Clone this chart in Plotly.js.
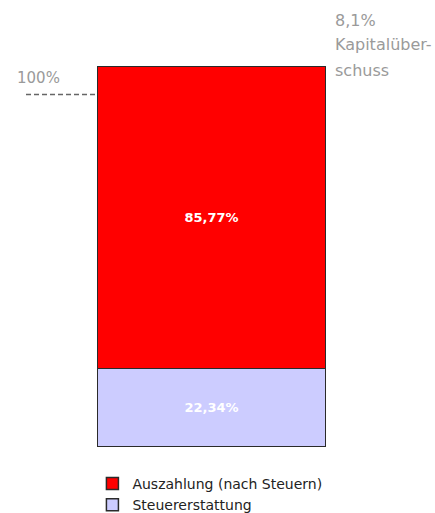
<!DOCTYPE html>
<html>
<head>
<meta charset="utf-8">
<script src="https://cdn.plot.ly/plotly-3.0.1.min.js"></script>
<style>html,body{margin:0;padding:0;background:#fff;}#chart{width:435px;height:513px;}</style>
</head>
<body>
<div id="chart"></div>
<script>
// Data
const category = ["Gesamt"];
const seriesNames = ["Steuererstattung", "Auszahlung (nach Steuern)"];
const steuererstattung = [22.34];
const auszahlung = [85.77];
const referenceLevel = 100;          // "100%" line
const kapitalueberschuss = 8.1;      // percent above 100%
const noteLines = [kapitalueberschuss.toFixed(1).replace('.', ',') + "%", "Kapitalüber-", "schuss"];

const total = steuererstattung[0] + auszahlung[0];

const barLine = {color: "#2a2a2a", width: 1.5};
const textFont = {family: "DejaVu Sans", size: 13, color: "#ffffff", weight: "bold"};

const traces = [
  {
    type: "bar", name: seriesNames[0], x: category, y: steuererstattung,
    marker: {color: "#ccccff", line: barLine},
    texttemplate: "%{y:.2f}%", textposition: "inside", insidetextanchor: "middle",
    textfont: textFont, width: 1, hoverinfo: "skip"
  },
  {
    type: "bar", name: seriesNames[1], x: category, y: auszahlung,
    marker: {color: "#ff0000", line: barLine},
    texttemplate: "%{y:.2f}%", textposition: "inside", insidetextanchor: "middle",
    textfont: textFont, width: 1, hoverinfo: "skip"
  }
];

const noteY = [1.1207, 1.0577, 0.9895];
const annotations = noteLines.map((t, i) => ({
  xref: "paper", yref: "paper", x: 1.0306, y: noteY[i],
  xanchor: "left", yanchor: "middle", text: t, showarrow: false,
  font: {family: "DejaVu Sans", size: 16, color: "#9a9a9a"}
}));
annotations.push({
  xref: "paper", yref: "y", x: -0.255, y: referenceLevel,
  xanchor: "center", yanchor: "bottom", yshift: 6,
  text: referenceLevel + "%", showarrow: false,
  font: {family: "DejaVu Sans", size: 15, color: "#9a9a9a"}
});

const layout = {
  width: 435, height: 513,
  margin: {l: 97, r: 109, t: 66, b: 66, pad: 0, autoexpand: false},
  paper_bgcolor: "#ffffff", plot_bgcolor: "#ffffff",
  separators: ",.",
  barmode: "stack",
  showlegend: true,
  legend: {
    x: -0.02, y: -0.055, xanchor: "left", yanchor: "top",
    traceorder: "reversed",
    font: {family: "DejaVu Sans", size: 14, color: "#222222"},
    bgcolor: "rgba(0,0,0,0)", itemwidth: 30, tracegroupgap: 0
  },
  xaxis: {visible: false, range: [-0.5, 0.5], fixedrange: true},
  yaxis: {visible: false, range: [0, total], fixedrange: true},
  shapes: [{
    type: "line", xref: "paper", yref: "y",
    x0: -0.31, x1: 0, y0: referenceLevel, y1: referenceLevel,
    line: {color: "#666666", width: 1.5, dash: "5px,3px"}
  }],
  annotations: annotations
};

Plotly.newPlot("chart", traces, layout, {displayModeBar: false, staticPlot: true});
</script>
</body>
</html>
